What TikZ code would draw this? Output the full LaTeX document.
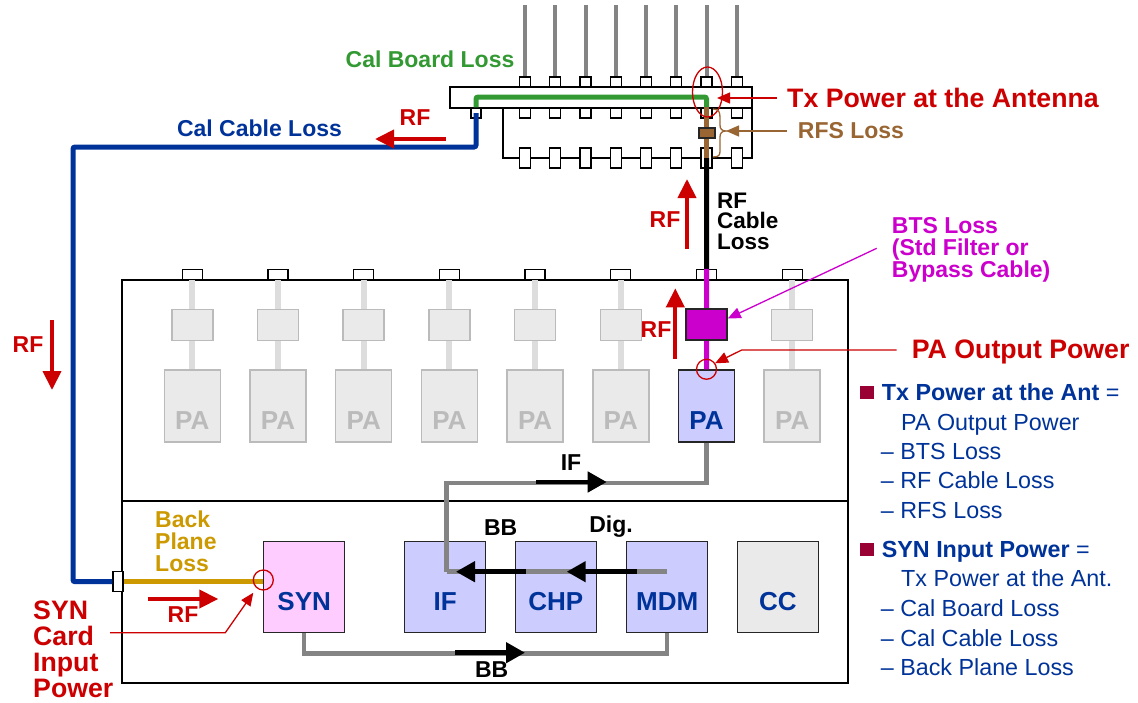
\documentclass[tikz,border=0pt]{standalone}
\usepackage{fontspec}
\setmainfont{Liberation Sans}
\usetikzlibrary{arrows.meta,positioning}

\definecolor{calred}{HTML}{CC0000}
\definecolor{calgreen}{HTML}{339933}
\definecolor{calblue}{HTML}{003399}
\definecolor{rfsbrown}{HTML}{996633}
\definecolor{btsmag}{HTML}{CC00CC}
\definecolor{bpgold}{HTML}{CC9900}
\definecolor{siggray}{HTML}{848484}
\definecolor{slotgray}{HTML}{DDDDDD}
\definecolor{offfill}{HTML}{EAEAEA}
\definecolor{offdraw}{HTML}{BBBBBB}
\definecolor{cardblue}{HTML}{CCCCFF}
\definecolor{synpink}{HTML}{FFCCFF}
\definecolor{bulletred}{HTML}{990033}

\tikzset{
  board/.style={draw, fill=white, line width=1.3pt, inner sep=0pt},
  pinbox/.style={draw, fill=white, line width=1.3pt, inner sep=0pt, minimum width=11pt, minimum height=10pt},
  shelf/.style={draw, line width=1.5pt, inner sep=0pt},
  card/.style={draw=black!85, line width=1.5pt, minimum width=81pt, minimum height=91pt, inner sep=0pt},
  cardtxt/.style={font=\bfseries\fontsize{26}{26}\selectfont, text=calblue, inner sep=0pt},
  paoff/.style={draw=offdraw, fill=offfill, line width=1.5pt, minimum width=56pt, minimum height=72pt, inner sep=0pt},
  paon/.style={draw=black!85, fill=cardblue, line width=1.5pt, minimum width=56pt, minimum height=72pt, inner sep=0pt},
  filteroff/.style={draw=offdraw, fill=offfill, line width=1.5pt, minimum width=41pt, minimum height=31pt, inner sep=0pt},
  btsbox/.style={draw=black!85, fill=btsmag, line width=1.5pt, minimum width=41pt, minimum height=31pt, inner sep=0pt},
  slotline/.style={draw=slotgray, line width=6pt},
  antline/.style={draw=siggray, line width=4pt},
  cable/.style={line width=5pt},
  sigline/.style={draw=siggray, line width=4.5pt},
  sigarrow/.style={line width=4.5pt, -{Triangle[length=19pt,width=20pt]}},
  rfarrow/.style={draw=calred, line width=4pt, -{Triangle[length=19pt,width=18pt]}},
  callarrow/.style={line width=1.3pt, -{Triangle[length=13pt,width=11pt]}},
  lbl/.style={font=\bfseries\fontsize{23}{22}\selectfont, inner sep=0pt},
  bigred/.style={font=\bfseries\fontsize{26.7}{26}\selectfont, text=calred, inner sep=0pt},
  listline/.style={font=\fontsize{23.3}{28}\selectfont, text=calblue, inner sep=0pt, anchor=base west},
  bulletsq/.style={fill=bulletred, minimum width=14pt, minimum height=13pt, inner sep=0pt}
}

\begin{document}
\begin{tikzpicture}[x=1pt,y=-1pt]
\useasboundingbox (0,0) rectangle (1138,702);

% antennas and cal board
\foreach \k in {0,...,7}
  \draw[antline] (525+30.25*\k,5) -- (525+30.25*\k,78);
\node[board, minimum width=249pt, minimum height=50pt] (rfs) at (627.5,133) {};
\node[board, minimum width=302pt, minimum height=21pt] (calb) at (601,97.5) {};
\foreach \k in {0,...,7} {
  \node[pinbox] (ta\k) at (525+30.25*\k,82) {};
  \node[pinbox] (tb\k) at (525+30.25*\k,113) {};
  \node[pinbox, minimum height=20pt] (tc\k) at (525+30.25*\k,158) {};
}
\node[pinbox, minimum width=10pt] (calport) at (476,113) {};

% shelf
\node[shelf, minimum width=726pt, minimum height=221pt] (upper) at (485,390.5) {};
\node[shelf, minimum width=726pt, minimum height=182pt] (lower) at (485,592) {};
\foreach \i in {0,...,7} {
  \pgfmathsetmacro\cx{192.3+85.7*\i}
  \node[pinbox, minimum width=20pt] (s\i) at (\cx,274.5) {};
}
\foreach \i in {0,1,2,3,4,5,7} {
  \pgfmathsetmacro\cx{192.3+85.7*\i}
  \node[paoff] (pa\i) at (\cx,406) {};
  \draw[slotline] (s\i.south) -- (pa\i.north);
  \node[filteroff] (f\i) at (\cx,324.8) {};
  \node[cardtxt, text=offdraw] (pl\i) at ([yshift=-15pt]pa\i.center) {PA};
}
\node[paon] (pa) at (706.5,406) {};
\node[cardtxt] (pl6) at ([yshift=-15pt]pa.center) {PA};

% cables
\coordinate (ant) at (706.5,97);
\node[pinbox, minimum height=20pt, minimum width=10pt] (bpport) at (118,581.7) {};
\draw[cable, draw=calblue, rounded corners=2pt] (calport.center) |- (73,147) |- (bpport.west);
\draw[cable, draw=calgreen, rounded corners=2pt] (calport.north) |- (ant) -- (tb6.north);
\draw[cable, draw=rfsbrown] (tb6.north) -- (tc6.center);
\draw[cable] (tc6.center) -- (s6.north);
\draw[cable, draw=btsmag] (s6.north) -- (pa.north);
\node[draw=black!85, fill=rfsbrown, line width=1.2pt, minimum width=16pt, minimum height=10pt, inner sep=0pt] (rfsf) at (707,133) {};
\node[btsbox] (bts) at (706.5,324.5) {};

% cards
\node[card, fill=synpink] (syn) at (304.2,587.2) {};
\node[card, fill=cardblue] (ifc) at (445.2,587.2) {};
\node[card, fill=cardblue] (chp) at (555.8,587.2) {};
\node[card, fill=cardblue] (mdm) at (667.2,587.2) {};
\node[card, fill=offfill] (cc) at (777.8,587.2) {};
\node[cardtxt] (synt) at ([yshift=-14.5pt]syn.center) {SYN};
\node[cardtxt] (ift) at ([yshift=-14.5pt]ifc.center) {IF};
\node[cardtxt] (chpt) at ([yshift=-14.5pt]chp.center) {CHP};
\node[cardtxt] (mdmt) at ([yshift=-14.5pt]mdm.center) {MDM};
\node[cardtxt] (cct) at ([yshift=-14.5pt]cc.center) {CC};
\draw[cable, draw=bpgold] (bpport.east) -- (bpport.east -| syn.west);

% signal paths
\coordinate (ifin) at (446.7,571.7);
\coordinate (mdmin) at (667.2,571.7);
\draw[sigline] (pa.south) -- ++(0,40) -| (ifin);
\draw[sigline] (mdmin) -- (ifin);
\draw[sigline] (syn.south) -- ++(0,20) -| (mdm.south);
\draw[sigarrow] (536,482) -- (606.7,482);
\draw[sigarrow] (636.7,571.7) -- (566.7,571.7);
\draw[sigarrow] (525.7,571.7) -- (456,571.7);
\draw[sigarrow] (455,652.7) -- (525,652.7);
\node[lbl] (iflbl) at (571,463) {IF};
\node[lbl] (bblbl) at (500.7,527.3) {BB};
\node[lbl] (diglbl) at (611,527) {Dig.};
\node[lbl] (bblbl2) at (491.7,670) {BB};

% RF directions
\draw[rfarrow] (445.7,139) -- (375,139);
\draw[rfarrow] (52,320) -- (52,390);
\draw[rfarrow] (687,249) -- (687,179);
\draw[rfarrow] (675.3,358.7) -- (675.3,288.3);
\draw[rfarrow] (147.7,599) -- (218.3,599);
\node[lbl, text=calred] (rf1) at (415,118) {RF};
\node[lbl, text=calred] (rf2) at (28,345) {RF};
\node[lbl, text=calred] (rf3) at (665,220) {RF};
\node[lbl, text=calred] (rf4) at (656,330) {RF};
\node[lbl, text=calred] (rf5) at (183,615) {RF};

% loss labels
\node[lbl, text=calgreen] (calblbl) at (430,59) {Cal Board Loss};
\node[lbl, text=calblue] (calclbl) at (259.5,128) {Cal Cable Loss};
\node[lbl, align=left, anchor=west, font=\bfseries\fontsize{22.5}{20.5}\selectfont] (rfclbl) at (717,221) {RF\\Cable\\Loss};
\node[lbl, text=bpgold, align=left, anchor=west] (bplbl) at (155,541) {Back\\Plane\\Loss};

% call-outs
\draw[calred, line width=1.3pt] (707.5,92) ellipse [x radius=15, y radius=25];
\coordinate (txtail) at (777,98);
\coordinate (txtip) at (717,98);
\draw[callarrow, calred] (txtail) -- (txtip);
\node[bigred, right=10pt of txtail] (txlbl) {Tx Power at the Antenna};

\coordinate (rfstail) at (786.7,131);
\coordinate (rfstip) at (726,131);
\draw[callarrow, rfsbrown] (rfstail) -- (rfstip);
\draw[rfsbrown, line width=1.3pt] (713,109) .. controls (719,109) and (720,112) .. (720,118) -- (720,125)
  .. controls (720,129) and (722,131) .. (726,131) .. controls (722,131) and (720,133) .. (720,137) -- (720,151)
  .. controls (720,155) and (719,157) .. (713,157);
\node[lbl, text=rfsbrown, right=11pt of rfstail] (rfslbl) {RFS Loss};

\coordinate (btstail) at (876.7,248.3);
\draw[callarrow, btsmag] (btstail) -- ([yshift=6pt]bts.east);
\node[lbl, text=btsmag, align=left, right=15pt of btstail, yshift=-2pt] (btslbl) {BTS Loss\\(Std Filter or\\Bypass Cable)};

\draw[calred, line width=1.3pt] (pa.north) circle (10);
\coordinate (patail) at (896.7,350);
\coordinate (pabend) at (741.7,350);
\coordinate (patip) at (715,363.3);
\draw[callarrow, calred] (patail) -- (pabend) -- (patip);
\node[bigred, right=15pt of patail, yshift=-2pt] (palbl) {PA Output Power};

\coordinate (synring) at (263.3,580);
\draw[calred, line width=1.3pt] (synring) circle (10);
\coordinate (syntail) at (110,632.7);
\coordinate (synbend) at (225.3,632.7);
\coordinate (syntip) at (253.3,592.7);
\draw[callarrow, calred] (syntail) -- (synbend) -- (syntip);
\node[bigred, align=left, anchor=west] (synlbl) at (33,649.5) {SYN\\Card\\Input\\Power};

% power budget
\node[bulletsq] (bul1) at (867,392.3) {};
\node[bulletsq] (bul2) at (867,549) {};
\foreach \ty/\tx/\txt [count=\n] in {
  392.3/881.7/{\bfseries Tx Power at the Ant} =,
  421.7/901/PA Output Power,
  451/880.7/-- BTS Loss,
  480.5/880.7/-- RF Cable Loss,
  510.5/880.7/-- RFS Loss,
  549.3/881.7/{\bfseries SYN Input Power} =,
  578.3/901/Tx Power at the Ant.,
  608.3/880.7/-- Cal Board Loss,
  637.7/880.7/-- Cal Cable Loss,
  666.7/880.7/-- Back Plane Loss}
  \node[listline] (line\n) at (\tx,\ty+8.3) {\txt};
\end{tikzpicture}
\end{document}
